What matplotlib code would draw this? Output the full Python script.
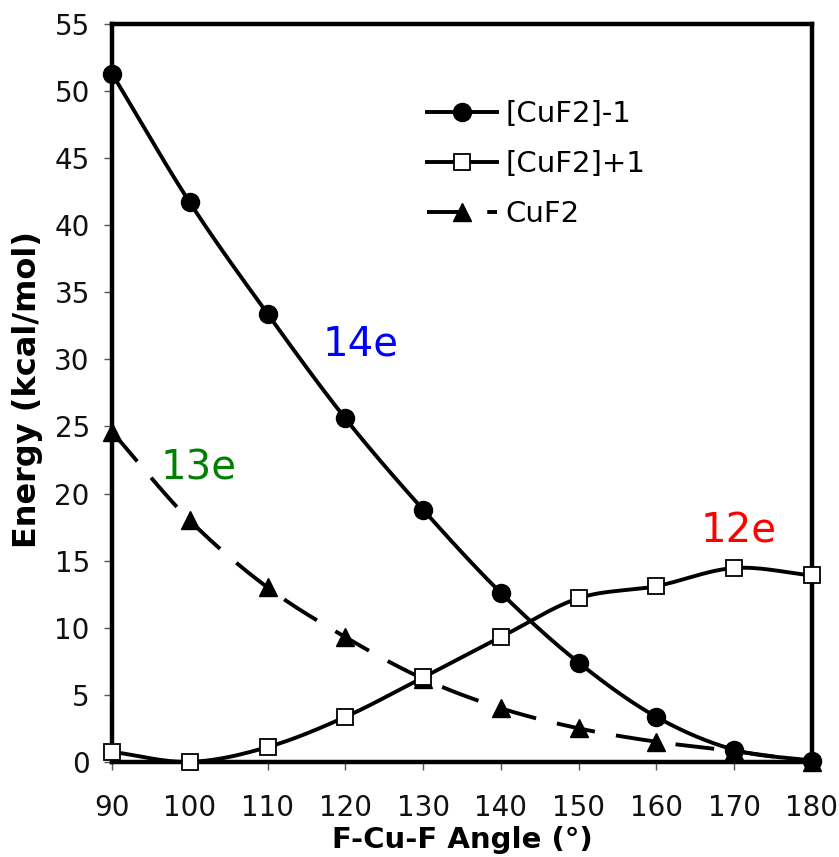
import numpy as np
import matplotlib
matplotlib.use("Agg")
import matplotlib.pyplot as plt
from matplotlib.lines import Line2D

angles = [90, 100, 110, 120, 130, 140, 150, 160, 170, 180]
anion = [51.3, 41.7, 33.4, 25.6, 18.8, 12.6, 7.4, 3.35, 0.9, 0.1]
cation = [0.75, 0.0, 1.1, 3.35, 6.3, 9.3, 12.2, 13.1, 14.45, 13.9]
neutral = [24.6, 18.0, 13.0, 9.3, 6.2, 4.0, 2.5, 1.5, 0.8, 0.0]

series_names = ["[CuF2]-1", "[CuF2]+1", "CuF2"]
x_ticks = list(range(90, 181, 10))
y_ticks = list(range(0, 56, 5))


def smooth(x, y, n=30):
    """Catmull-Rom curve through the points (like a spreadsheet smoothed line)."""
    x = np.asarray(x, float)
    y = np.asarray(y, float)
    px = np.concatenate([[2 * x[0] - x[1]], x, [2 * x[-1] - x[-2]]])
    py = np.concatenate([[2 * y[0] - y[1]], y, [2 * y[-1] - y[-2]]])
    xs, ys = [], []
    t = np.linspace(0, 1, n)
    for i in range(1, len(px) - 2):
        for P, out in ((px, xs), (py, ys)):
            p0, p1, p2, p3 = P[i - 1], P[i], P[i + 1], P[i + 2]
            out.extend(0.5 * ((2 * p1) + (-p0 + p2) * t
                              + (2 * p0 - 5 * p1 + 4 * p2 - p3) * t ** 2
                              + (-p0 + 3 * p1 - 3 * p2 + p3) * t ** 3))
    return np.array(xs), np.array(ys)


plt.rcParams["font.family"] = ["DejaVu Sans"]
fig = plt.figure(figsize=(8.39, 8.57), dpi=100)
ax = fig.add_axes([0.1335, 0.111, 0.8343, 0.861])

lw = 2.8
dash = (10, 5.5)
# CuF2 (dashed)
sx, sy = smooth(angles, neutral)
ax.plot(sx, sy, color="black", lw=lw, dashes=dash, clip_on=False, zorder=3)
ax.plot(angles, neutral, ls="none", marker="^", ms=13, color="black",
        clip_on=False, zorder=4)
# [CuF2]+1
sx, sy = smooth(angles, cation)
ax.plot(sx, sy, color="black", lw=lw, clip_on=False, zorder=3)
ax.plot(angles, cation, ls="none", marker="s", ms=12, mfc="white",
        mec="black", mew=1.3, clip_on=False, zorder=5)
# [CuF2]-1
sx, sy = smooth(angles, anion)
ax.plot(sx, sy, color="black", lw=lw, clip_on=False, zorder=3)
ax.plot(angles, anion, ls="none", marker="o", ms=13, color="black",
        clip_on=False, zorder=4)

ax.set_xlim(90, 180)
ax.set_ylim(0, 55)
ax.set_xticks(x_ticks)
ax.set_yticks(y_ticks)
ax.tick_params(axis="both", labelsize=20, length=6, width=1, color="#555555",
               labelcolor="#111111", direction="out")
ax.tick_params(axis="x", pad=17)
ax.tick_params(axis="y", pad=10)
for s in ax.spines.values():
    s.set_linewidth(3.2)
    s.set_zorder(2)

ax.set_xlabel("F-Cu-F Angle (°)", fontsize=21, fontweight="bold")
ax.set_ylabel("Energy (kcal/mol)", fontsize=23, fontweight="bold")
ax.xaxis.set_label_coords(0.5, -0.087)
ax.yaxis.set_label_coords(-0.098, 0.505)

handles = [
    Line2D([], [], color="black", lw=lw, marker="o", ms=13),
    Line2D([], [], color="black", lw=lw, marker="s", ms=12, mfc="white",
           mec="black", mew=1.3),
    Line2D([], [], color="black", lw=lw, marker="^", ms=13, dashes=dash),
]
ax.legend(handles, series_names, loc="upper left", bbox_to_anchor=(0.412, 0.932),
          frameon=False, fontsize=21, handlelength=2.4, handletextpad=0.3,
          labelspacing=0.75)

ax.text(122.0, 31.1, "14e", color="blue", fontsize=29, ha="center", va="center")
ax.text(101.1, 21.9, "13e", color="green", fontsize=29, ha="center", va="center")
ax.text(170.6, 17.2, "12e", color="red", fontsize=29, ha="center", va="center")

fig.savefig("out.png", dpi=100)
